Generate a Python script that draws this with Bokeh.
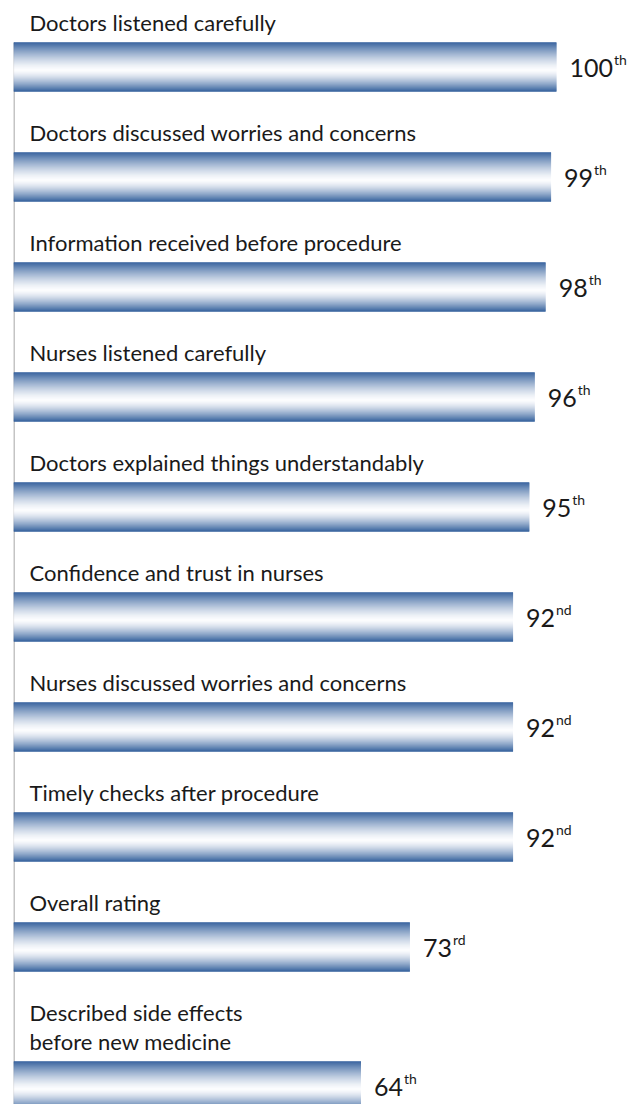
from bokeh.plotting import figure
from bokeh.models import Range1d, ColumnDataSource
from bokeh.core.properties import value
from bokeh.embed import file_html
from bokeh.resources import INLINE

# ---- data ----
labels = [
    "Doctors listened carefully",
    "Doctors discussed worries and concerns",
    "Information received before procedure",
    "Nurses listened carefully",
    "Doctors explained things understandably",
    "Confidence and trust in nurses",
    "Nurses discussed worries and concerns",
    "Timely checks after procedure",
    "Overall rating",
    "Described side effects\nbefore new medicine",
]
percentiles = [100, 99, 98, 96, 95, 92, 92, 92, 73, 64]
suffixes = ["th", "th", "th", "th", "th", "nd", "nd", "nd", "rd", "th"]

# ---- layout constants (pixels) ----
W, H = 628, 1104
FRAME_LEFT = 13
X_END = 100 * (W - FRAME_LEFT) / 543.0
FIRST_TOP = 42
PITCH = 110
LINE_H = 29
BAR_H = 49
FONT = "Lato"
DIGIT_W = 14.5

p = figure(width=W, height=H, output_backend="svg", toolbar_location=None,
           x_range=Range1d(0, X_END), y_range=Range1d(H, 0),
           min_border_left=FRAME_LEFT, min_border_right=0,
           min_border_top=0, min_border_bottom=0)
p.axis.visible = False
p.grid.visible = False
p.outline_line_color = None
p.background_fill_color = "white"
p.border_fill_color = "white"

# compute bar tops from label line counts
tops = []
extra = 0
for i, lab in enumerate(labels):
    n = len(lab.split("\n"))
    extra += (n - 1) * LINE_H
    tops.append(FIRST_TOP + i * PITCH + extra)

# gray axis line behind bars
p.segment(x0=[0], x1=[0], y0=[tops[0]], y1=[tops[-1] + BAR_H],
          line_color="#c4c4c4", line_width=3)

# gradient strips
dark = (42, 89, 152)
light = (252, 252, 254)
N = 49
c = 0.57
ys, rights, cols = [], [], []
for top, v in zip(tops, percentiles):
    for k in range(N):
        t = (k + 0.5) / N
        d = (c - t) / c if t < c else (t - c) / (1 - c)
        f = d ** 1.4
        col = tuple(int(round(light[j] + (dark[j] - light[j]) * f)) for j in range(3))
        ys.append(top + (k + 0.5) * BAR_H / N)
        rights.append(v)
        cols.append("#%02x%02x%02x" % col)
p.hbar(y=ys, left=0, right=rights, height=BAR_H / N + 0.6,
       fill_color=cols, line_color=None)

# category labels
lx, ly, lt = [], [], []
for lab, top in zip(labels, tops):
    lines = lab.split("\n")
    n = len(lines)
    for j, ln in enumerate(lines):
        lx.append(0)
        ly.append(top - 20 - (n - 1 - j) * LINE_H)
        lt.append(ln)
p.text(x=lx, y=ly, text=lt, x_offset=16, text_font=value(FONT),
       text_font_size="22px", text_color="#1a1a1a",
       text_baseline="alphabetic", text_align="left")

# value labels with superscript suffix
nums = [str(v) for v in percentiles]
src = ColumnDataSource(dict(
    x=percentiles,
    yn=[t + 25 for t in tops],
    ys=[t + 17 for t in tops],
    num=nums,
    suf=suffixes,
    soff=[13 + DIGIT_W * len(s) + 1 for s in nums],
))
p.text(x="x", y="yn", text="num", source=src, x_offset=13,
       text_font=value(FONT), text_font_size="25px", text_color="#1a1a1a",
       text_baseline="alphabetic", text_align="left")
p.text(x="x", y="ys", text="suf", source=src, x_offset="soff",
       text_font=value(FONT), text_font_size="14px", text_color="#1a1a1a",
       text_baseline="alphabetic", text_align="left")

open("out.html", "w").write(file_html(p, INLINE))
